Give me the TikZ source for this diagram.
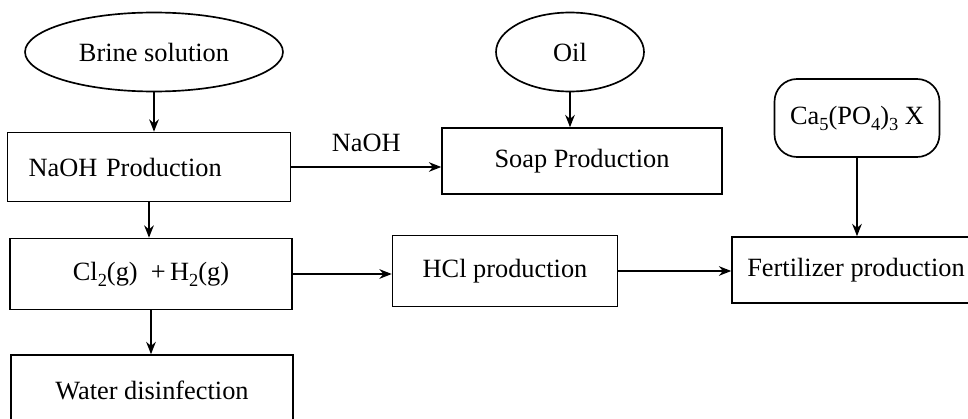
\documentclass[tikz,border=0pt]{standalone}
\usepackage{fontspec}
\setmainfont{Liberation Serif}
\usetikzlibrary{shapes.geometric, arrows.meta}
\newcommand{\chemsub}[1]{\raisebox{-0.5ex}{\fontsize{10.5}{11}\selectfont #1}}

\begin{document}
\begin{tikzpicture}[x=0.02cm, y=-0.02cm, line width=0.95pt,
    >={Stealth[length=7pt, width=5.5pt]},
    font=\fontsize{15}{18}\selectfont,
    proc/.style={draw, rectangle, inner sep=0pt},
    feed/.style={draw, ellipse, inner sep=0pt}]
  \useasboundingbox (0, 0) rectangle (968, 419);
  \clip (0, 0) rectangle (968, 419);

  \node[feed, minimum width=5.16cm, minimum height=1.58cm] (brine) at (154, 52) {Brine solution};
  \node[feed, minimum width=2.96cm, minimum height=1.58cm] (oil) at (570, 52) {Oil};
  \node[proc, rounded corners=0.45cm, minimum width=3.3cm, minimum height=1.56cm] (ca) at (857, 118)
    {Ca\chemsub{5}(PO\chemsub{4})\chemsub{3} X};

  \node[proc, minimum width=5.66cm, minimum height=1.38cm, text width=4.82cm, align=left] (naoh) at (149, 167) {NaOH Production};
  \node[proc, minimum width=5.6cm, minimum height=1.32cm] (soap) at (582, 161) {Soap Production};
  \node[proc, minimum width=5.64cm, minimum height=1.42cm] (cl) at (151, 274)
    {Cl\chemsub{2}(g)\enspace+\,H\chemsub{2}(g)};
  \node[proc, minimum width=4.5cm, minimum height=1.42cm] (hcl) at (505, 271) {HCl production};
  \node[proc, minimum width=4.96cm, minimum height=1.32cm] (fert) at (856, 270) {Fertilizer production};
  \node[proc, minimum width=5.64cm, minimum height=1.4cm] (water) at (152, 390) {Water disinfection};

  \foreach \src/\dst in {brine/naoh, oil/soap, naoh/cl, cl/water, ca/fert}
    \draw[->] (\src.south) -- (\src.south |- \dst.north);
  \foreach \src/\dst in {cl/hcl, hcl/fert}
    \draw[->] (\src.east) -- (\src.east -| \dst.west);
  \draw[->] (naoh.east) -- (naoh.east -| soap.west) node[midway, above=5pt] {NaOH};
\end{tikzpicture}
\end{document}
